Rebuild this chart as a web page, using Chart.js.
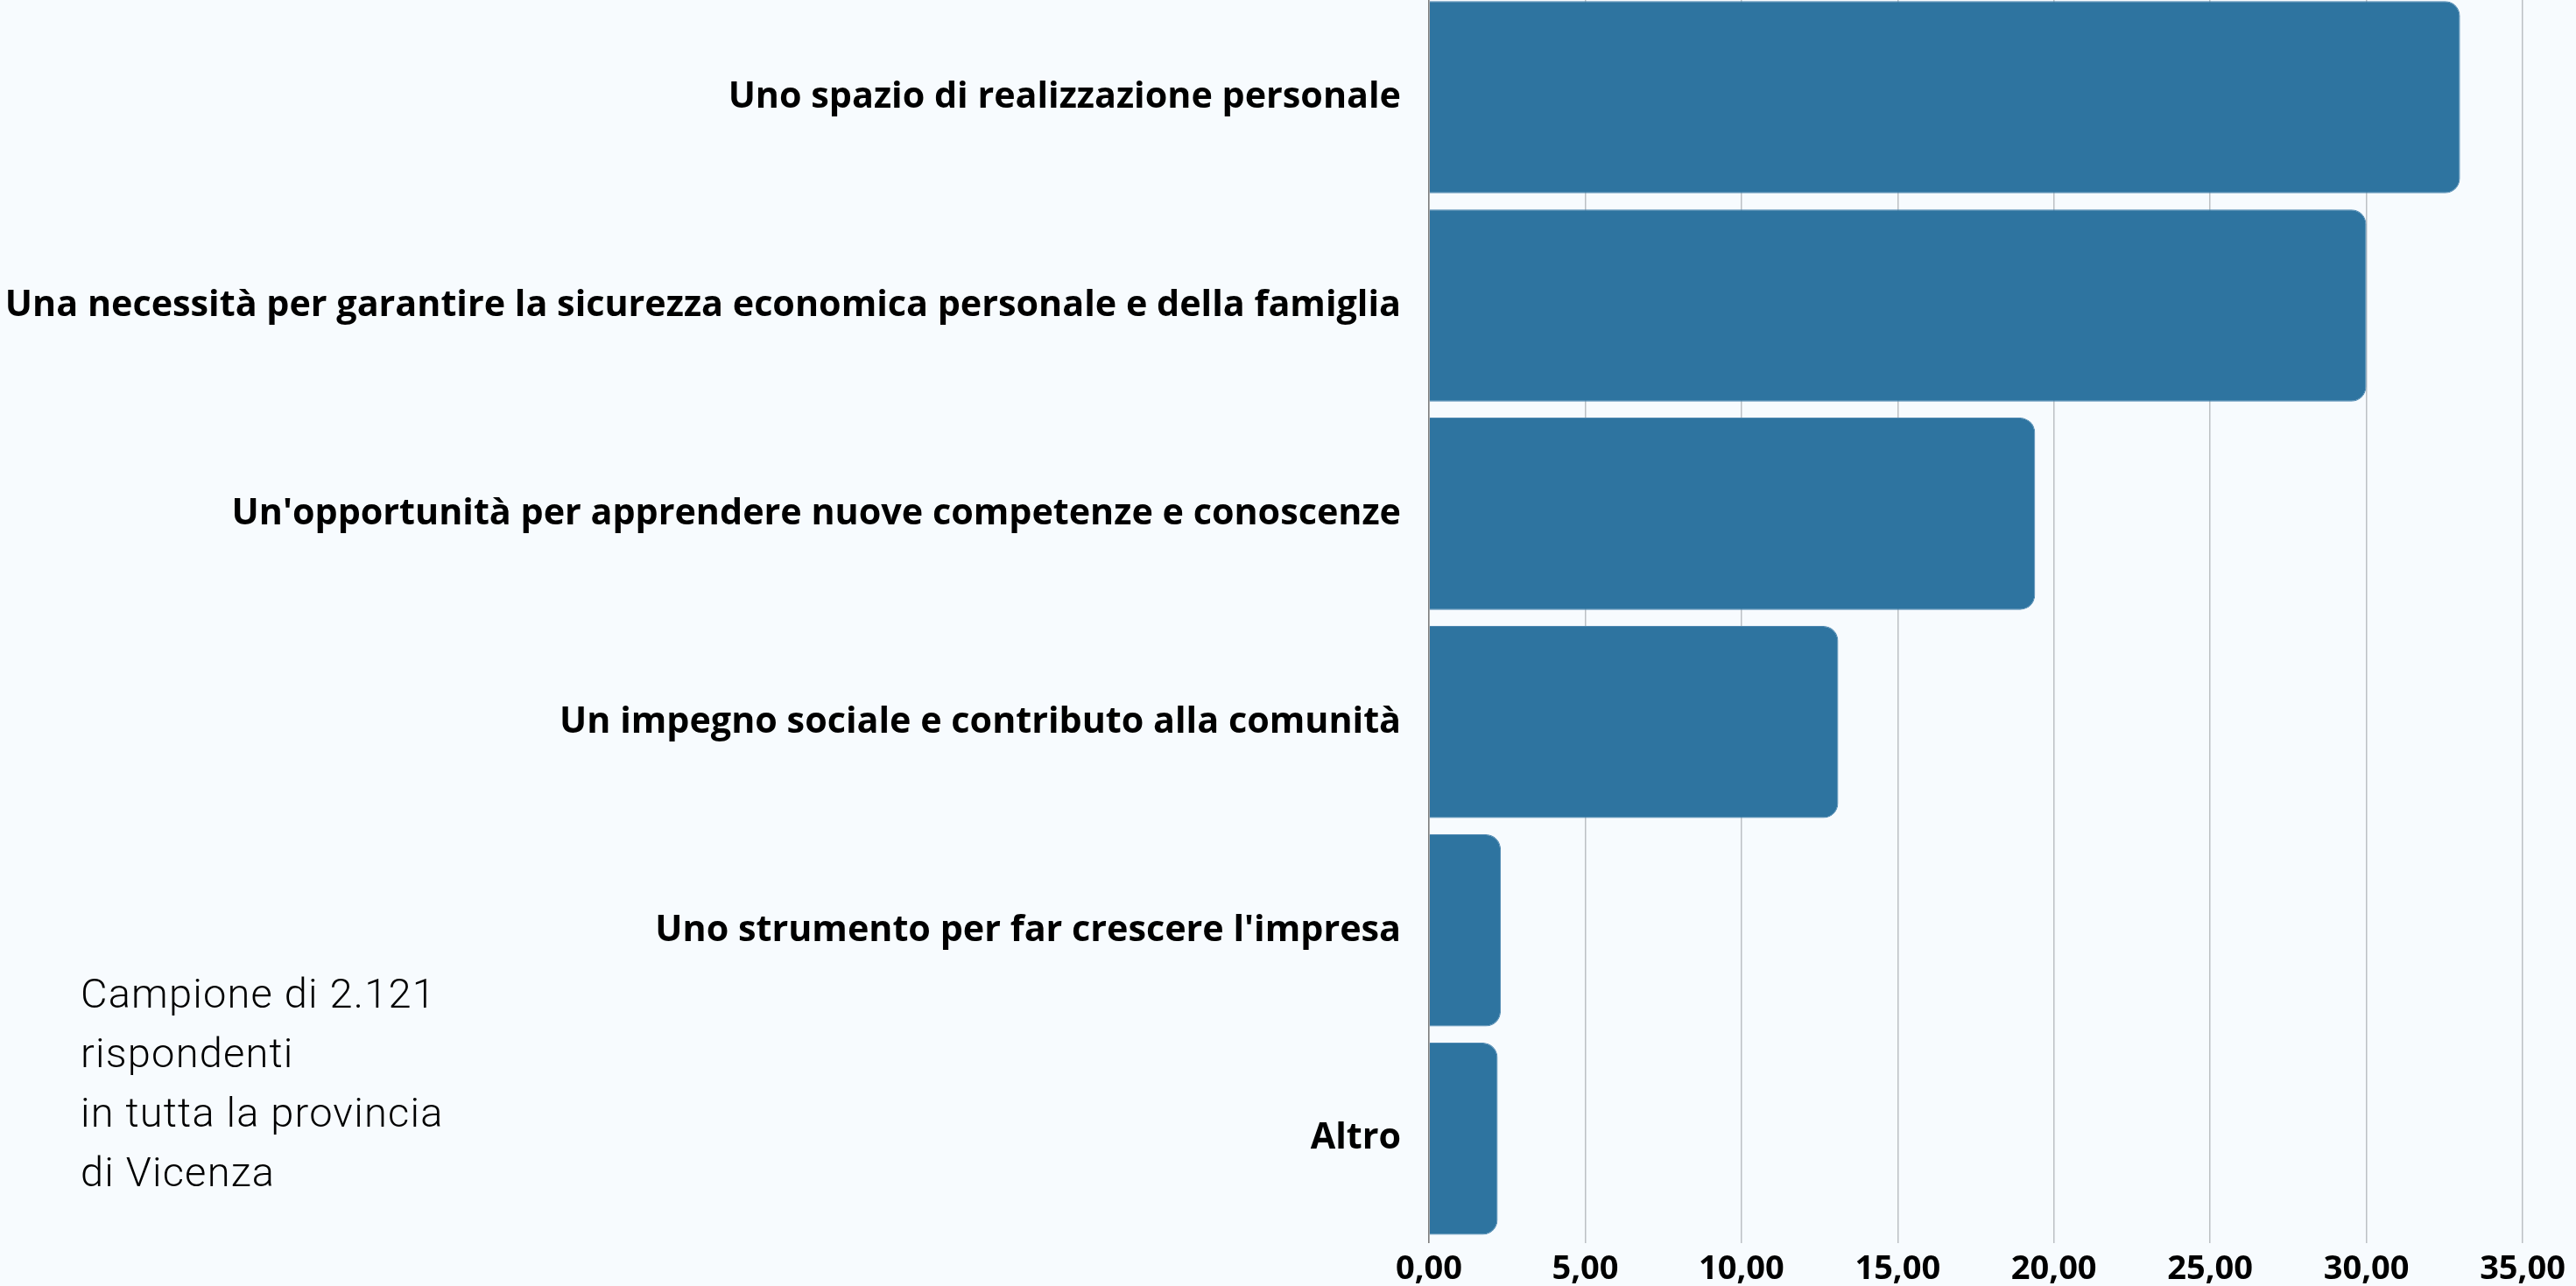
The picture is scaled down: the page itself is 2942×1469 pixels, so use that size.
<!DOCTYPE html>
<html lang="it">
<head>
<meta charset="utf-8">
<title>Il lavoro è...</title>
<script src="https://cdn.jsdelivr.net/npm/chart.js@4.4.1/dist/chart.umd.min.js"></script>
<style>
  html, body { margin: 0; padding: 0; background: #f7fbfe; overflow: hidden; }
  #wrap { position: relative; width: 2942px; height: 1469px; overflow: hidden; }
  /* the bars run flush to the top edge in the original, so the canvas starts a little above the page */
  #chart { position: absolute; left: 0; top: -8px; }
  #note {
    position: absolute; left: 92px; top: 1101px;
    font-family: Roboto, "Noto Sans", sans-serif; font-weight: 300;
    font-size: 47px; line-height: 68px; letter-spacing: 1.2px; color: #000;
  }
</style>
</head>
<body>
<div id="wrap">
  <canvas id="chart" width="2942" height="1477"></canvas>
  <div id="note">Campione di 2.121<br>rispondenti<br>in tutta la provincia<br>di Vicenza</div>
</div>
<script>
const categories = [
    'Uno spazio di realizzazione personale',
    'Una necessità per garantire la sicurezza economica personale e della famiglia',
    "Un'opportunità per apprendere nuove competenze e conoscenze",
    'Un impegno sociale e contributo alla comunità',
    "Uno strumento per far crescere l'impresa",
    'Altro'
];
const percentages = [33.0, 30.0, 19.4, 13.1, 2.3, 2.2];
const xTickLabels = ['0,00', '5,00', '10,00', '15,00', '20,00', '25,00', '30,00', '35,00'];

const barColor = '#2e74a0';
const gridColor = '#bcc0c4';

const ctx = document.getElementById('chart').getContext('2d');

new Chart(ctx, {
    type: 'bar',
    data: {
        labels: categories,
        datasets: [{
            data: percentages,
            backgroundColor: barColor,
            borderColor: '#4f89b2',
            borderWidth: 1,
            borderRadius: 17,
            barPercentage: 0.9225,
            categoryPercentage: 1.0
        }]
    },
    options: {
        indexAxis: 'y',
        responsive: false,
        animation: false,
        layout: { padding: { top: 0, right: 61, bottom: 0, left: 0 } },
        plugins: {
            legend: { display: false },
            tooltip: { enabled: false }
        },
        scales: {
            x: {
                min: 0,
                max: 35,
                afterFit: scale => {
                    scale.height = 49.3;
                    scale.paddingTop = 0;
                    scale.paddingBottom = 0;
                },
                ticks: {
                    stepSize: 5,
                    padding: 8,
                    color: '#000',
                    font: { family: '"Open Sans"', weight: 'bold', size: 38 },
                    callback: (v, i) => xTickLabels[i]
                },
                grid: { color: gridColor, lineWidth: 1.5, drawTicks: false },
                border: { display: false }
            },
            y: {
                afterFit: scale => {
                    scale.width = 1632;
                    scale.paddingTop = 0;
                    scale.paddingBottom = 0;
                },
                ticks: {
                    padding: 32,
                    color: '#000',
                    font: { family: '"Open Sans"', weight: 'bold', size: 41.3 }
                },
                grid: { display: false, drawTicks: false },
                border: { display: true, color: '#7d7d7d', width: 1.5 }
            }
        }
    }
});
</script>
</body>
</html>
